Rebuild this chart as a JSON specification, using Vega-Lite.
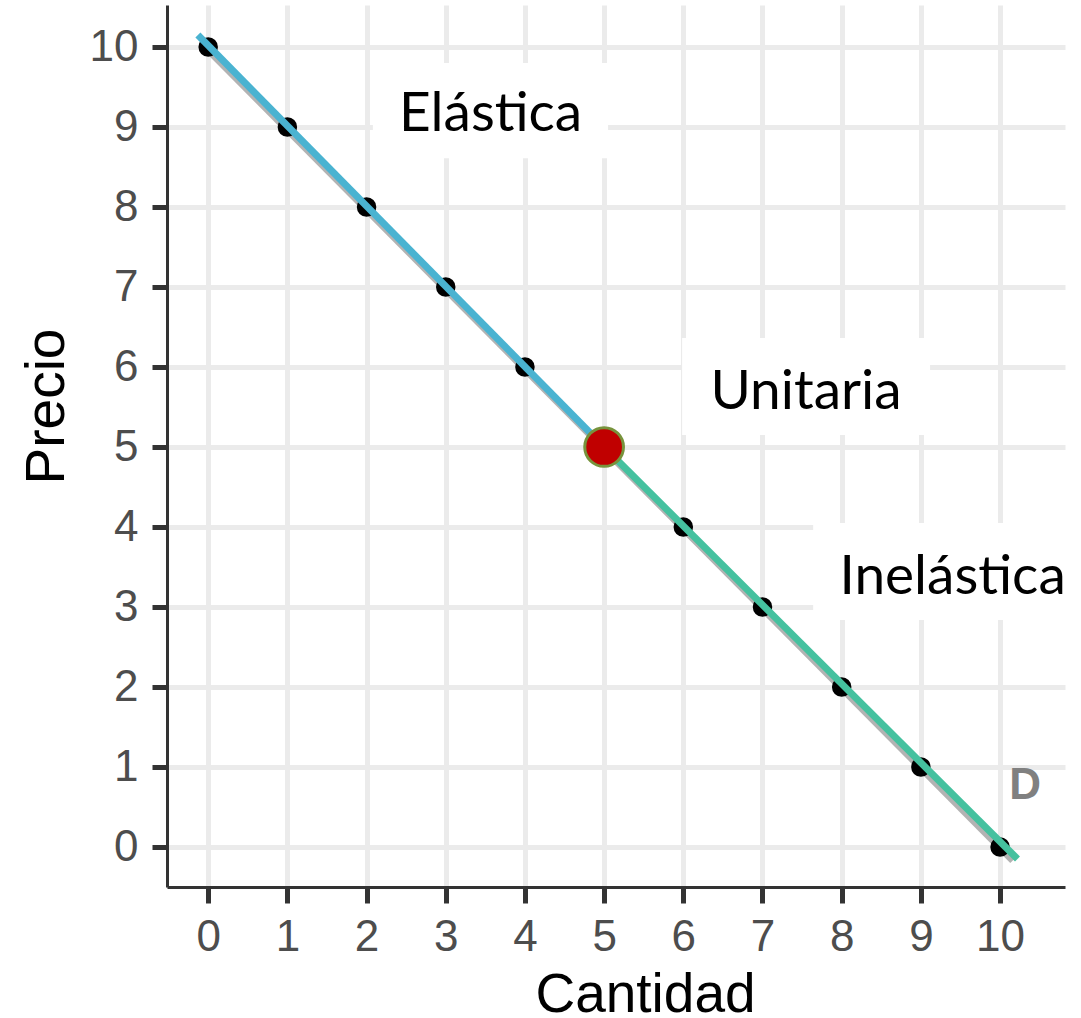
{
  "$schema": "https://vega.github.io/schema/vega-lite/v6.json",
  "autosize": "none",
  "width": 898,
  "height": 882,
  "padding": {"left": 167, "top": 5, "right": 16, "bottom": 131},
  "background": "white",
  "config": {
    "view": {"stroke": null},
    "axis": {
      "domainColor": "#333333",
      "domainWidth": 3,
      "tickColor": "#333333",
      "tickWidth": 5,
      "gridColor": "#ebebeb",
      "gridWidth": 5,
      "labelFont": "Liberation Sans",
      "labelFontSize": 44,
      "labelColor": "#4d4d4d",
      "format": "d",
      "titleFont": "Liberation Sans",
      "titleFontSize": 55,
      "titleFontWeight": "normal",
      "titleColor": "#000000"
    }
  },
  "datasets": {
    "points": [
      {"q": 0, "p": 10}, {"q": 1, "p": 9}, {"q": 2, "p": 8}, {"q": 3, "p": 7},
      {"q": 4, "p": 6}, {"q": 6, "p": 4}, {"q": 7, "p": 3}, {"q": 8, "p": 2},
      {"q": 9, "p": 1}, {"q": 10, "p": 0}
    ],
    "gray": [{"q": -0.06, "p": 10.02}, {"q": 10.16, "p": -0.17}],
    "segs": [
      {"q": -0.13, "p": 10.15, "tramo": "Elástica"},
      {"q": 5, "p": 5, "tramo": "Elástica"},
      {"q": 5, "p": 5, "tramo": "Inelástica"},
      {"q": 10.22, "p": -0.15, "tramo": "Inelástica"}
    ],
    "boxes": [
      {"label": "Elástica", "x1": 2.08, "x2": 5.05, "y1": 8.61, "y2": 9.8, "tx": 3.567, "ty": 8.95},
      {"label": "Unitaria", "x1": 5.985, "x2": 9.116, "y1": 5.15, "y2": 6.3625, "tx": 7.55, "ty": 5.475},
      {"label": "Inelástica", "x1": 7.64, "x2": 11.02, "y1": 2.8375, "y2": 4.05, "tx": 9.4, "ty": 3.1625}
    ]
  },
  "layer": [
    {
      "data": {"name": "gray"},
      "mark": {"type": "line", "color": "#b3b3b3", "strokeWidth": 7},
      "encoding": {
        "x": {
          "field": "q", "type": "quantitative",
          "scale": {"domain": [-0.52, 10.82], "nice": false, "zero": false},
          "axis": {
            "values": [0, 1, 2, 3, 4, 5, 6, 7, 8, 9, 10],
            "title": "Cantidad",
            "tickSize": 16,
            "labelPadding": 12,
            "titleX": 478,
            "titleY": 124,
            "titleBaseline": "alphabetic",
            "titleAlign": "center"
          }
        },
        "y": {
          "field": "p", "type": "quantitative",
          "scale": {"domain": [-0.5, 10.525], "nice": false, "zero": false},
          "axis": {
            "values": [0, 1, 2, 3, 4, 5, 6, 7, 8, 9, 10],
            "title": "Precio",
            "tickSize": 15,
            "labelPadding": 14,
            "titleX": -104,
            "titleY": 401,
            "titleBaseline": "alphabetic",
            "titleAlign": "center",
            "titleAngle": -90
          }
        }
      }
    },
    {
      "data": {"name": "points"},
      "mark": {"type": "circle", "color": "#000000", "opacity": 1, "size": 380},
      "encoding": {
        "x": {"field": "q", "type": "quantitative"},
        "y": {"field": "p", "type": "quantitative"}
      }
    },
    {
      "data": {"name": "segs"},
      "mark": {"type": "line", "strokeWidth": 7},
      "encoding": {
        "x": {"field": "q", "type": "quantitative"},
        "y": {"field": "p", "type": "quantitative"},
        "color": {
          "field": "tramo", "type": "nominal",
          "scale": {"domain": ["Elástica", "Inelástica"], "range": ["#4ab3d1", "#45c19f"]},
          "legend": null
        }
      }
    },
    {
      "data": {"values": [{"q": 5, "p": 5}]},
      "mark": {"type": "circle", "fill": "#c00000", "stroke": "#77933c", "strokeWidth": 3, "opacity": 1, "size": 1500},
      "encoding": {
        "x": {"field": "q", "type": "quantitative"},
        "y": {"field": "p", "type": "quantitative"}
      }
    },
    {
      "data": {"name": "boxes"},
      "mark": {"type": "rect", "fill": "white", "clip": false},
      "encoding": {
        "x": {"field": "x1", "type": "quantitative"},
        "x2": {"field": "x2"},
        "y": {"field": "y1", "type": "quantitative"},
        "y2": {"field": "y2"}
      }
    },
    {
      "data": {"name": "boxes"},
      "mark": {"type": "text", "font": "Lato", "fontSize": 55, "color": "#000000", "align": "center", "baseline": "alphabetic"},
      "encoding": {
        "x": {"field": "tx", "type": "quantitative"},
        "y": {"field": "ty", "type": "quantitative"},
        "text": {"field": "label"}
      }
    },
    {
      "data": {"values": [{"q": 10.316, "p": 0.6, "t": "D"}]},
      "mark": {"type": "text", "font": "Liberation Sans", "fontWeight": "bold", "fontSize": 44, "color": "#808080", "align": "center", "baseline": "alphabetic"},
      "encoding": {
        "x": {"field": "q", "type": "quantitative"},
        "y": {"field": "p", "type": "quantitative"},
        "text": {"field": "t"}
      }
    }
  ]
}
